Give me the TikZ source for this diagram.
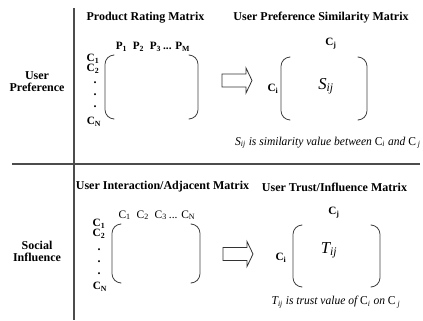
\documentclass[tikz,border=0pt]{standalone}
\usepackage{fontspec}
\setmainfont{Liberation Serif}
\newfontfamily\capfont[FakeStretch=0.96]{Liberation Serif}
\usetikzlibrary{calc}
\newcommand{\sbs}[1]{\textsubscript{#1}}
\begin{document}
\begin{tikzpicture}[x=0.75pt,y=-0.75pt,
  hd/.style={font=\fontsize{9}{9}\selectfont\bfseries, inner sep=0, align=center},
  cb/.style={font=\fontsize{8.4}{9}\selectfont\bfseries, inner sep=0},
  cr/.style={font=\fontsize{8.6}{9}\selectfont, inner sep=0},
  dotn/.style={font=\fontsize{9}{9}\selectfont\bfseries, inner sep=0},
  big/.style={font=\fontsize{12.5}{12}\selectfont\itshape, inner sep=0},
  captxt/.style={font=\capfont\fontsize{9}{9}\selectfont\itshape, inner sep=0},
  brk/.style={draw=black!75, line width=0.6pt, rounded corners=7pt},
  blk/.style={draw=black!80, line width=0.6pt, fill=white, line join=miter},
  sep/.style={draw=black!70, line width=0.8pt}]
\useasboundingbox (0,0) rectangle (423,320);
% separators
\coordinate (vt) at (74,8);
\coordinate (vb) at (74,320);
\coordinate (hl) at (12,164);
\coordinate (hr) at (420,164);
\draw[sep] (vt) -- (vb);
\draw[sep] (hl) -- (hr);
% row labels
\node[hd] (up) at (37,82) {User\\Preference};
\node[hd] (si) at (37,251) {Social\\Influence};
% ===== top =====
\node[hd] (prm) at (145.5,18) {Product Rating Matrix};
\node[hd] (upsm) at (321,18) {User Preference Similarity Matrix};
\node[cb] (prow) at (153,47) {P\sbs{1}\ \ P\sbs{2}\ \ P\sbs{3}\,... P\sbs{M}};
\node[cb] (c1a) at (93,59) {C\sbs{1}};
\node[cb] (c2a) at (93,69) {C\sbs{2}};
\node[dotn] (d1a) at (95,83) {.};
\node[dotn] (d2a) at (95,95) {.};
\node[dotn] (d3a) at (95,107) {.};
\node[cb] (cna) at (94,122) {C\sbs{N}};
\draw[brk] (113,55) -- (105,55) -- (105,119) -- (113,119);
\draw[brk] (190,55) -- (198,55) -- (198,119) -- (190,119);
\coordinate (arra) at (237,80.5);
\draw[blk] ($(arra)+(-15,-6.5)$) -- ++(24,0) -- ++(0,-6) -- ++(6,12.5) -- ++(-6,12.5) -- ++(0,-6) -- ++(-24,0) -- cycle;
\node[cb] (cja) at (331,44) {C\sbs{j}};
\node[cb] (cia) at (273,89) {C\sbs{i}};
\node[big] (sij) at (326,86) {S\sbs{ij}};
\draw[brk] (289,57) -- (281,57) -- (281,120) -- (289,120);
\draw[brk] (359,57) -- (367,57) -- (367,120) -- (359,120);
\node[captxt, anchor=east] (capa) at (421,143) {S\sbs{ij} is similarity value between \upshape C\sbs{\itshape i} \itshape and \upshape C\sbs{\itshape\ j}};
% ===== bottom =====
\node[hd] (uiam) at (162.5,187) {User Interaction/Adjacent Matrix};
\node[hd] (utim) at (334.5,187) {User Trust/Influence Matrix};
\node[cr] (crow) at (157,215) {C\sbs{1}\ \ C\sbs{2}\ \ C\sbs{3}\,... C\sbs{N}};
\node[cb] (c1b) at (99,224) {C\sbs{1}};
\node[cb] (c2b) at (99,234) {C\sbs{2}};
\node[dotn] (d1b) at (99,250) {.};
\node[dotn] (d2b) at (99,262) {.};
\node[dotn] (d3b) at (99,274) {.};
\node[cb] (cnb) at (100,287) {C\sbs{N}};
\draw[brk] (120,224) -- (112,224) -- (112,283) -- (120,283);
\draw[brk] (192,224) -- (200,224) -- (200,283) -- (192,283);
\coordinate (arrb) at (238,254);
\draw[blk] ($(arrb)+(-15,-6.5)$) -- ++(24,0) -- ++(0,-6) -- ++(6,12.5) -- ++(-6,12.5) -- ++(0,-6) -- ++(-24,0) -- cycle;
\node[cb] (cjb) at (334,213) {C\sbs{j}};
\node[cb] (cib) at (281,258) {C\sbs{i}};
\node[big] (tij) at (329,250) {T\sbs{ij}};
\draw[brk] (301,225) -- (293,225) -- (293,287) -- (301,287);
\draw[brk] (372,225) -- (380,225) -- (380,287) -- (372,287);
\node[captxt] (capb) at (336,302) {T\sbs{ij} is trust value of \upshape C\sbs{\itshape i} \itshape on \upshape C\sbs{\itshape\ j}};
\end{tikzpicture}
\end{document}
